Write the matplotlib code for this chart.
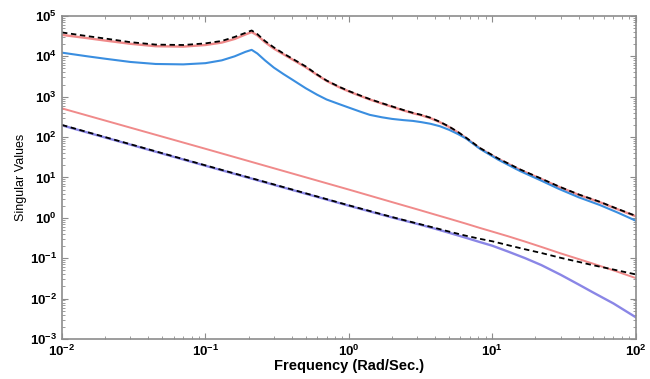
import numpy as np
import matplotlib
matplotlib.use("Agg")
import matplotlib.pyplot as plt
from matplotlib import ticker

plt.rcParams['font.family'] = ['Liberation Sans', 'DejaVu Sans']
plt.rcParams['mathtext.fontset'] = 'custom'
plt.rcParams['mathtext.rm'] = 'Liberation Sans'
plt.rcParams['mathtext.bf'] = 'Liberation Sans:bold'

# frequencies (rad/s) for the upper curves, values as log10(singular value)
w_top = [0.01, 0.015, 0.02, 0.03, 0.045, 0.07, 0.1, 0.13, 0.16, 0.19,
         0.21, 0.23, 0.26, 0.3, 0.35, 0.4, 0.5, 0.6, 0.7, 0.85,
         1.0, 1.2, 1.4, 1.7, 2.0, 2.4, 2.8, 3.2, 3.7, 4.3,
         5.0, 5.8, 6.6, 8.2, 11, 15.6, 22, 29, 40, 56, 75, 100]
top_black = [4.59, 4.50, 4.44, 4.35, 4.29, 4.28, 4.32, 4.38, 4.48, 4.58,
             4.64, 4.55, 4.38, 4.22, 4.07, 3.95, 3.75, 3.55, 3.40, 3.25,
             3.14, 3.03, 2.94, 2.84, 2.76, 2.67, 2.60, 2.55, 2.48, 2.38,
             2.26, 2.12, 1.98, 1.73, 1.47, 1.20, 0.97, 0.78, 0.58, 0.40, 0.22, 0.05]
top_red = [4.53, 4.45, 4.39, 4.31, 4.25, 4.24, 4.28, 4.34, 4.43, 4.54,
           4.60, 4.52, 4.35, 4.19, 4.05, 3.93, 3.73, 3.54, 3.39, 3.24,
           3.13, 3.02, 2.93, 2.83, 2.75, 2.66, 2.59, 2.54, 2.47, 2.37,
           2.25, 2.11, 1.97, 1.72, 1.46, 1.19, 0.96, 0.77, 0.57, 0.39, 0.21, 0.04]
top_blue = [4.09, 4.00, 3.94, 3.86, 3.81, 3.80, 3.83, 3.90, 4.00, 4.11,
            4.16, 4.07, 3.90, 3.72, 3.56, 3.43, 3.21, 3.05, 2.93, 2.82,
            2.73, 2.63, 2.55, 2.49, 2.45, 2.42, 2.40, 2.37, 2.33, 2.27,
            2.18, 2.07, 1.96, 1.71, 1.44, 1.16, 0.92, 0.72, 0.51, 0.32, 0.13, -0.07]

# lower curves
w_low = [0.01, 0.1, 1.0, 2.0, 3.0, 4.0, 5.0, 6.5, 8.2, 10,
         13, 17, 22, 30, 40, 50, 70, 100]
low_red = [2.71, 1.71, 0.70, 0.39, 0.21, 0.08, -0.02, -0.14, -0.25, -0.34,
           -0.46, -0.59, -0.72, -0.88, -1.02, -1.13, -1.30, -1.49]
low_black = [2.30, 1.30, 0.31, 0.02, -0.14, -0.25, -0.34, -0.44, -0.52, -0.58,
             -0.68, -0.78, -0.87, -0.99, -1.09, -1.17, -1.28, -1.40]
low_purple = [2.29, 1.29, 0.30, 0.01, -0.15, -0.27, -0.37, -0.49, -0.60, -0.69,
              -0.84, -1.00, -1.17, -1.41, -1.65, -1.84, -2.12, -2.46]

# axis decades
x_exp = [-2, -1, 0, 1, 2]
y_exp = [-3, -2, -1, 0, 1, 2, 3, 4, 5]

red = '#f08a8a'
blue = '#3a8ee0'
purple = '#8a86e6'

fig = plt.figure(figsize=(6.5, 3.79), dpi=100)
ax = fig.add_axes([0.0954, 0.1055, 0.8826, 0.8525])

ax.loglog(w_top, 10 ** np.array(top_red), color=red, lw=1.7)
ax.loglog(w_top, 10 ** np.array(top_blue), color=blue, lw=1.5)
ax.loglog(w_top, 10 ** np.array(top_black), color='k', lw=1.3, ls=(0, (3, 2)))

ax.loglog(w_low, 10 ** np.array(low_red), color=red, lw=1.4)
ax.loglog(w_low, 10 ** np.array(low_purple), color=purple, lw=1.7)
ax.loglog(w_low, 10 ** np.array(low_black), color='k', lw=1.3, ls=(0, (3, 2)))

ax.set_xlim(10.0 ** x_exp[0], 10.0 ** x_exp[-1])
ax.set_ylim(10.0 ** y_exp[0], 10.0 ** y_exp[-1])

def bold_pow(v, pos):
    return r'$\mathbf{10^{%d}}$' % int(round(np.log10(v)))

for axis, exps in ((ax.xaxis, x_exp), (ax.yaxis, y_exp)):
    major = [10.0 ** e for e in exps]
    minor = [m * 10.0 ** e for e in exps[:-1] for m in range(2, 10)]
    axis.set_major_locator(ticker.FixedLocator(major))
    axis.set_minor_locator(ticker.FixedLocator(minor))
    axis.set_major_formatter(ticker.FuncFormatter(bold_pow))
    axis.set_minor_formatter(ticker.NullFormatter())

for s in ax.spines.values():
    s.set_color('#8c8c8c')
    s.set_linewidth(1.2)
ax.tick_params(which='both', direction='in', top=True, right=True, colors='#8c8c8c',
               labelcolor='k', labelsize=9.5)
ax.tick_params(which='major', length=4)
ax.tick_params(which='minor', length=2)

ax.set_xlabel('Frequency (Rad/Sec.)', fontsize=10.5, fontweight='bold', labelpad=0)
ax.set_ylabel('Singular Values', fontsize=9, labelpad=2)

fig.savefig('out.png', dpi=100)
